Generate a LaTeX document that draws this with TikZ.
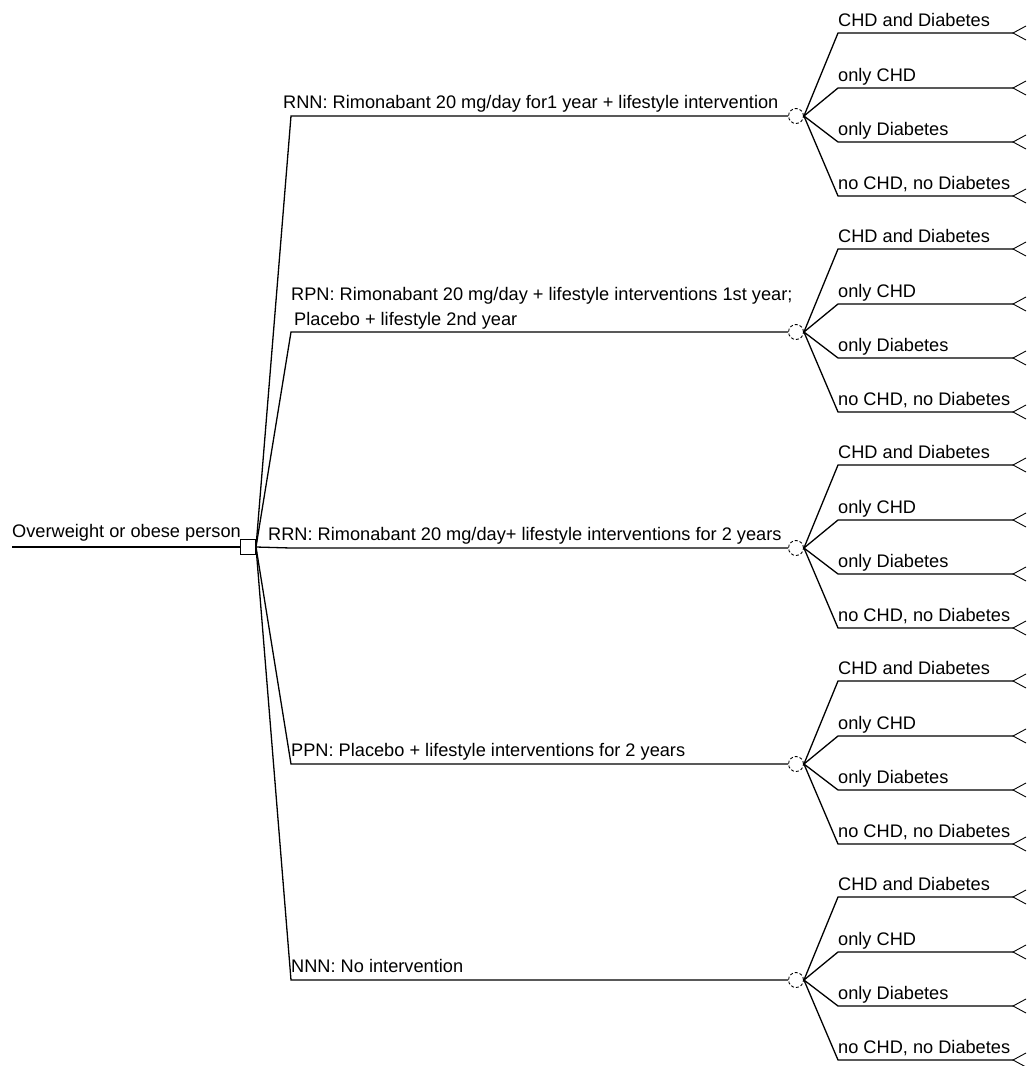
\documentclass[tikz,border=0pt]{standalone}
\usepackage{fontspec}
\setmainfont{Liberation Sans}
\begin{document}
\begin{tikzpicture}[x=1pt,y=-1pt,
  lbl/.style={anchor=base west, inner sep=0pt, font=\fontsize{18.2}{21}\selectfont},
  decbox/.style={draw, rectangle, line width=1pt, minimum size=15pt, inner sep=0pt},
  chancenode/.style={draw, circle, line width=0.9pt, densely dashed, minimum size=15pt, inner sep=0pt},
  conn/.style={line width=1.3pt},
  term/.style={line width=0.9pt}]
\useasboundingbox (0,0) rectangle (1026,1066);
% decision node
\node[decbox] (D) at (248,547) {};
\coordinate (root) at (12,547);
\draw[conn] (root) -- (D.west);
\node[lbl] (rootlbl) at (12,537) {Overweight or obese person};
% chance nodes and decision branches
\foreach \i/\c in {1/116, 2/332, 3/548, 4/764, 5/980}{
  \node[chancenode] (C\i) at (796,\c) {};
  \coordinate (K\i) at (291,\c);
  \draw[conn] (D.east) -- (K\i) -- (C\i.west);
  \foreach \j/\dy/\t in {1/-83/CHD and Diabetes, 2/-28/only CHD, 3/26/only Diabetes, 4/80/{no CHD, no Diabetes}}{
    \coordinate (O\i\j) at (838,{\c+\dy});
    \coordinate (E\i\j) at (1013,{\c+\dy});
    \coordinate (TA\i\j) at (1026,{\c+\dy-7});
    \coordinate (TB\i\j) at (1026,{\c+\dy+7});
    \draw[conn] (C\i.east) -- (O\i\j) -- (E\i\j);
    \draw[term] (TA\i\j) -- (E\i\j) -- (TB\i\j);
    \node[lbl] (L\i\j) at (838,{\c+\dy-7}) {\t};
  }
}
% branch labels
\node[lbl] (b1) at (283,108) {RNN: Rimonabant 20 mg/day for1 year + lifestyle intervention};
\node[lbl] (b2a) at (291,300) {RPN: Rimonabant 20 mg/day + lifestyle interventions 1st year;};
\node[lbl] (b2b) at (294,325) {Placebo + lifestyle 2nd year};
\node[lbl] (b3) at (268,540) {RRN: Rimonabant 20 mg/day+ lifestyle interventions for 2 years};
\node[lbl] (b4) at (291,756) {PPN: Placebo + lifestyle interventions for 2 years};
\node[lbl] (b5) at (291,972) {NNN: No intervention};
\end{tikzpicture}
\end{document}
